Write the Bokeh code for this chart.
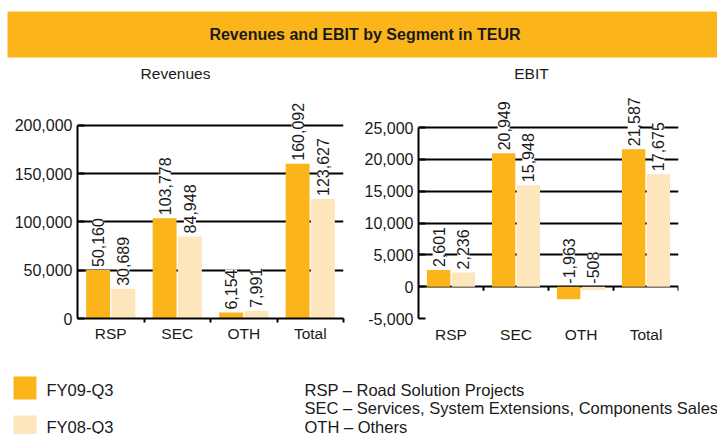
import math
from bokeh.plotting import figure
from bokeh.layouts import column, row
from bokeh.models import Range1d, FixedTicker, NumeralTickFormatter, ColumnDataSource, LabelSet
from bokeh.core.properties import value
from bokeh.embed import file_html
from bokeh.resources import INLINE

# ---------------- data ----------------
title_text = "Revenues and EBIT by Segment in TEUR"
panel_titles = ["Revenues", "EBIT"]
segments = ["RSP", "SEC", "OTH", "Total"]
series_names = ["FY09-Q3", "FY08-Q3"]
revenues_fy09 = [50160, 103778, 6154, 160092]
revenues_fy08 = [30689, 84948, 7991, 123627]
ebit_fy09 = [2601, 20949, -1963, 21587]
ebit_fy08 = [2236, 15948, -508, 17675]
rev_ticks = [0, 50000, 100000, 150000, 200000]
ebit_ticks = [-5000, 0, 5000, 10000, 15000, 20000, 25000]
legend_notes = ["RSP \u2013 Road Solution Projects",
                "SEC \u2013 Services, System Extensions, Components Sales",
                "OTH \u2013 Others"]

ORANGE = "#FBB51B"
LIGHT = "#FDE5BC"
FONT = "Liberation Sans"
TXT = "#1a1a1a"
W = 717
ROW_TOP = 88      # page y where the chart row starts
ROW_H = 270


def bare(width, height, xr, yr):
    p = figure(width=width, height=height, x_range=xr, y_range=yr,
               output_backend="svg", toolbar_location=None,
               min_border=0, min_border_left=0, min_border_right=0,
               min_border_top=0, min_border_bottom=0)
    p.axis.visible = False
    p.grid.visible = False
    p.outline_line_color = None
    return p


def bar_chart(v09, v08, ticks, ymin, ymax, axis_top_px, axis_bottom_px,
              width, mb_left, mb_right, zero_inside, label_standoff):
    """axis_top_px / axis_bottom_px: page y of ymax and ymin; frame starts at ROW_TOP."""
    n = len(segments)
    px_per_unit = (axis_bottom_px - axis_top_px) / (ymax - ymin)
    frame_top_val = ymin + (axis_bottom_px - ROW_TOP) / px_per_unit
    p = figure(width=width, height=ROW_H, x_range=Range1d(0, n),
               y_range=Range1d(ymin, frame_top_val), output_backend="svg",
               toolbar_location=None, min_border_left=mb_left,
               min_border_right=mb_right, min_border_top=0,
               min_border_bottom=ROW_TOP + ROW_H - axis_bottom_px)
    p.outline_line_color = None
    centers = [i + 0.5 for i in range(n)]
    off, bw = 0.19, 0.36
    src = ColumnDataSource(dict(
        x09=[c - off for c in centers], x08=[c + off for c in centers],
        v09=v09, v08=v08,
        ly09=[max(v, 0) for v in v09], ly08=[max(v, 0) for v in v08],
        t09=[f"{v:,}" for v in v09], t08=[f"{v:,}" for v in v08]))
    p.vbar(x="x09", top="v09", bottom=0, width=bw, fill_color=ORANGE,
           line_color=None, source=src)
    p.vbar(x="x08", top="v08", bottom=0, width=bw, fill_color=LIGHT,
           line_color=None, source=src)
    for xs, ys, ts in (("x09", "ly09", "t09"), ("x08", "ly08", "t08")):
        p.add_layout(LabelSet(x=xs, y=ys, text=ts, source=src, angle=math.pi / 2,
                              text_align="left", text_baseline="middle",
                              y_offset=3, text_font=value(FONT),
                              text_font_size="16px", text_color=TXT,
                              background_fill_color="white"))
    # grid
    p.xgrid.visible = False
    p.ygrid.ticker = FixedTicker(ticks=[t for t in ticks if t > 0 or (t == 0 and zero_inside)])
    p.ygrid.grid_line_color = "black"
    p.ygrid.grid_line_width = 2
    # y axis
    yax = p.yaxis[0]
    yax.bounds = (ymin, ymax)
    yax.ticker = FixedTicker(ticks=ticks)
    yax.formatter = NumeralTickFormatter(format="0,0")
    yax.axis_line_width = 2
    yax.axis_line_color = "black"
    yax.major_tick_in = 7
    yax.major_tick_out = 0
    yax.major_tick_line_width = 2
    yax.major_tick_line_color = "black"
    yax.minor_tick_line_color = None
    yax.major_label_standoff = 5
    yax.major_label_text_font = FONT
    yax.major_label_text_font_size = "16px"
    yax.major_label_text_color = TXT
    # x axis
    xax = p.xaxis[0]
    xax.ticker = FixedTicker(ticks=centers, minor_ticks=[i + 1 for i in range(n)])
    xax.major_label_overrides = {c: s for c, s in zip(centers, segments)}
    xax.major_label_text_font = FONT
    xax.major_label_text_font_size = "15.5px"
    xax.major_label_text_color = TXT
    xax.major_tick_line_color = None
    xax.major_label_standoff = label_standoff
    if zero_inside:
        xax.axis_line_color = None
        xax.minor_tick_line_color = None
        xax.major_tick_out = 0
        p.segment(x0=[i + 1 for i in range(n)], x1=[i + 1 for i in range(n)],
                  y0=[0] * n, y1=[-4 / px_per_unit] * n,
                  line_color="black", line_width=2)
    else:
        xax.axis_line_color = "black"
        xax.axis_line_width = 2
        xax.major_tick_out = 4
        xax.major_tick_in = 0
        xax.minor_tick_out = 4
        xax.minor_tick_in = 0
        xax.minor_tick_line_color = "black"
        xax.minor_tick_line_width = 2
    return p


# ---------------- header ----------------
top = bare(W, ROW_TOP, Range1d(0, W), Range1d(ROW_TOP, 0))
top.quad(left=[7], right=[W], top=[11], bottom=[57],
         fill_color=ORANGE, line_color=None)
top.text(x=[364.5], y=[34], text=[title_text], text_align="center",
         text_baseline="middle", text_font=value(FONT), text_font_size="16px",
         text_font_style="bold", text_color=TXT)
top.text(x=[175, 531], y=[73, 73], text=panel_titles, text_align="center",
         text_baseline="middle", text_font=value(FONT), text_font_size="15.5px",
         text_color=TXT)

# ---------------- charts ----------------
REV_W = 358
rev = bar_chart(revenues_fy09, revenues_fy08, rev_ticks, 0, 200000, 125, 320,
                REV_W, 77, REV_W - 343, False, 2)
ebit = bar_chart(ebit_fy09, ebit_fy08, ebit_ticks, -5000, 25000, 127, 318,
                 W - REV_W, 418 - REV_W, W - 678, True, 3)

# ---------------- legend ----------------
LEG_TOP = ROW_TOP + ROW_H
leg = bare(W, 434 - LEG_TOP, Range1d(0, W), Range1d(434, LEG_TOP))
leg.quad(left=[13, 13], right=[36, 36], top=[376, 415], bottom=[399, 438],
         fill_color=[ORANGE, LIGHT], line_color=None)
leg.text(x=[46, 46], y=[389, 426], text=series_names, text_align="left",
         text_baseline="middle", text_font=value(FONT), text_font_size="16.5px",
         text_color=TXT)
leg.text(x=[304, 304, 304], y=[389, 407.5, 426], text=legend_notes,
         text_align="left", text_baseline="middle", text_font=value(FONT),
         text_font_size="16.5px", text_color=TXT)

layout = column(top, row(rev, ebit), leg)
open("out.html", "w").write(file_html(layout, INLINE))
